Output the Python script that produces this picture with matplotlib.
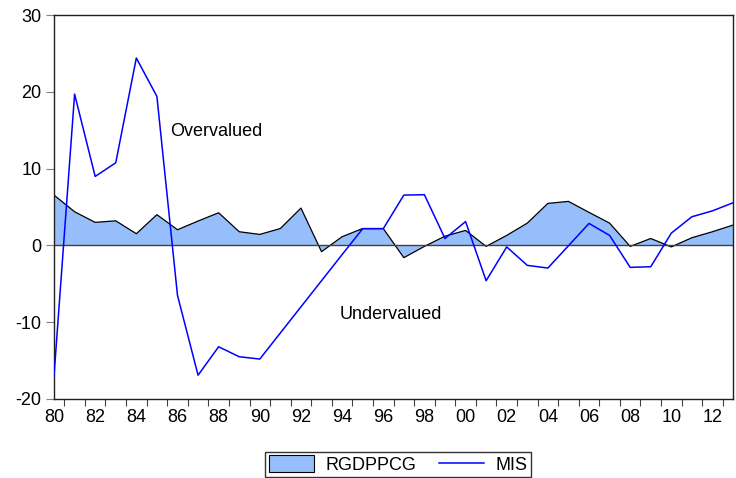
import numpy as np
import matplotlib
matplotlib.use('Agg')
import matplotlib.pyplot as plt
from matplotlib.patches import Patch
from matplotlib.lines import Line2D

plt.rcParams['font.family'] = ['Liberation Sans', 'DejaVu Sans']
plt.rcParams['axes.unicode_minus'] = False

years = np.arange(1980, 2014)

# real GDP per capita growth (filled area)
rgdppcg = [6.55, 4.38, 3.0, 3.2, 1.52, 4.0, 2.04, 3.17, 4.25, 1.78,
           1.43, 2.2, 4.86, -0.82, 1.13, 2.2, 2.2, -1.6, -0.13, 1.2,
           1.95, -0.13, 1.3, 2.9, 5.47, 5.73, 4.3, 2.9, -0.13, 0.9,
           -0.2, 1.0, 1.78, 2.65]

# misalignment index
mis = [-16.96, 19.7, 8.98, 10.76, 24.4, 19.4, -6.5, -16.9, -13.2, -14.5,
       -14.8, -11.4, -8.0, -4.6, -1.2, 2.17, 2.17, 6.55, 6.6, 0.9,
       3.1, -4.6, -0.2, -2.6, -2.95, -0.05, 2.86, 1.3, -2.86, -2.78,
       1.6, 3.73, 4.5, 5.55]

fill_col = '#96BEFA'
line_col = '#0000FF'

fig = plt.figure(figsize=(7.36, 4.78), dpi=100)
ax = fig.add_axes([0.0734, 0.1653, 0.9226, 0.8033])

ax.fill_between(years, rgdppcg, 0, facecolor=fill_col, edgecolor='none', zorder=1)
ax.plot(years, rgdppcg, color='black', lw=0.9, zorder=2)
ax.axhline(0, color='#404040', lw=1.0, zorder=2)
ax.plot(years, mis, color=line_col, lw=1.1, zorder=3)

ax.text(1985.65, 14.8, 'Overvalued', fontsize=13, ha='left', va='center')
ax.text(1993.9, -9.0, 'Undervalued', fontsize=13, ha='left', va='center')

ax.set_xlim(1980, 2013)
ax.set_ylim(-20, 30)
ax.set_yticks([-20, -10, 0, 10, 20, 30])
ax.tick_params(axis='y', direction='out', length=6, color='#808080',
               labelsize=13, pad=3)

# tick marks between observations, labels on even years
ax.set_xticks(np.arange(1980.5, 2013, 1))
ax.set_xticklabels([])
ax.tick_params(axis='x', direction='out', length=5, color='#404040')
sec = ax.secondary_xaxis('bottom')
sec.set_xticks(np.arange(1980, 2013, 2))
sec.set_xticklabels(['%02d' % (y % 100) for y in range(1980, 2013, 2)])
sec.tick_params(length=0, labelsize=13, pad=7)
sec.spines['bottom'].set_visible(False)

for s in ax.spines.values():
    s.set_color('#202020')
    s.set_linewidth(1.0)

handles = [Patch(facecolor=fill_col, edgecolor='black', lw=0.8),
           Line2D([], [], color=line_col, lw=1.1)]
fig.legend(handles, ['RGDPPCG', 'MIS'], loc='center', bbox_to_anchor=(0.541, 0.028),
           ncol=2, frameon=True, fancybox=False, edgecolor='black', fontsize=13,
           handlelength=2.5, handleheight=1.0, columnspacing=1.3,
           borderpad=0.2, handletextpad=0.6)

plt.savefig('out.png', dpi=100)
